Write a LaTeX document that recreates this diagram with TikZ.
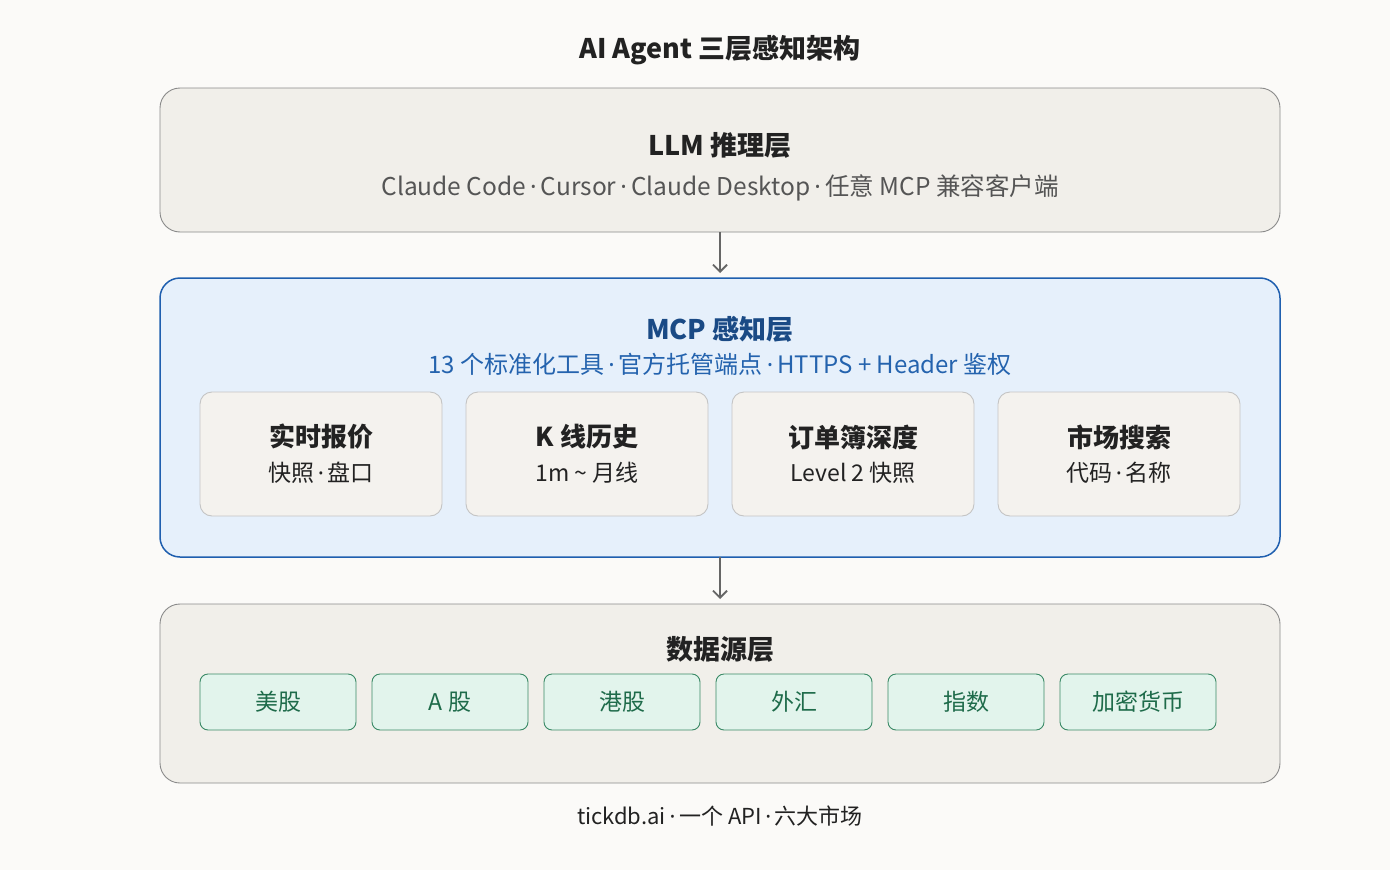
\documentclass[tikz,border=0pt]{standalone}
\usepackage{fontspec}
\setmainfont{Noto Sans CJK SC}
\newfontfamily\lat{Noto Sans}
\newcommand{\dt}{{\lat\,·\,}}
\usetikzlibrary{arrows.meta}
\definecolor{bg}{HTML}{FBFAF8}
\definecolor{layer}{HTML}{F1EFEA}
\definecolor{layerb}{HTML}{8A8A8A}
\definecolor{mcpf}{HTML}{E6F0FB}
\definecolor{mcpb}{HTML}{1F5FAF}
\definecolor{mcpt}{HTML}{1A4A85}
\definecolor{mcps}{HTML}{2463AE}
\definecolor{card}{HTML}{F4F2EE}
\definecolor{cardb}{HTML}{C4C4C4}
\definecolor{grf}{HTML}{E2F4EC}
\definecolor{grb}{HTML}{3A8A66}
\definecolor{grt}{HTML}{1E6B4A}
\definecolor{txt}{HTML}{222222}
\definecolor{sub}{HTML}{555555}
\begin{document}
\begin{tikzpicture}[x=1pt,y=-1pt,
  layerbox/.style={draw=layerb,fill=layer,rounded corners=20pt,line width=0.9pt},
  card/.style={draw=cardb,fill=card,rounded corners=12pt,line width=0.9pt},
  chip/.style={draw=grb,fill=grf,rounded corners=8pt,line width=0.9pt,text=grt,font=\fontsize{23}{26}\selectfont},
  hd/.style={font=\bfseries\fontsize{27}{30}\selectfont,text=txt},
  ct/.style={font=\bfseries\fontsize{26}{30}\selectfont,text=txt},
  cs/.style={font=\fontsize{23}{26}\selectfont,text=txt},
  st/.style={font=\fontsize{24.5}{28}\selectfont,text=sub},
  arr/.style={-{Straight Barb[length=7pt,width=14pt]},draw=sub!90,line width=1.8pt}]
\fill[bg] (0,0) rectangle (1390,870);
\useasboundingbox (0,0) rectangle (1390,870);
\node[hd] (title) at (720,50) {AI Agent 三层感知架构};
% LLM
\draw[layerbox] (160,88) rectangle (1280,232);
\coordinate (llmb) at (720,232);
\node[hd] (llm) at (720,145) {LLM 推理层};
\node[st] (llms) at (720,188) {Claude Code\dt Cursor\dt Claude Desktop\dt 任意 MCP 兼容客户端};
% MCP
\draw[draw=mcpb,fill=mcpf,rounded corners=20pt,line width=1.5pt] (160,278) rectangle (1280,557);
\coordinate (mcpt0) at (720,273);
\coordinate (mcpb0) at (720,557);
\node[font=\bfseries\fontsize{27}{30}\selectfont,text=mcpt] (mcp) at (720,329) {MCP 感知层};
\node[font=\fontsize{24}{28}\selectfont,text=mcps] (mcps) at (720,364) {13 个标准化工具\dt 官方托管端点\dt HTTPS + Header 鉴权};
\foreach \x/\a/\b [count=\i] in {200/实时报价/快照\dt 盘口,466/K 线历史/1m \textasciitilde{} 月线,732/订单簿深度/Level 2 快照,998/市场搜索/代码\dt 名称}{
  \draw[card] (\x,392) rectangle ++(242,124);
  \node[ct] (c\i) at (\x+121,437) {\a};
  \node[cs] (cs\i) at (\x+121,473) {\b};
}
% Data
\draw[layerbox] (160,604) rectangle (1280,783);
\coordinate (datat) at (720,599);
\node[hd] (data) at (720,649) {数据源层};
\foreach \x/\a [count=\i] in {200/美股,372/A 股,544/港股,716/外汇,888/指数,1060/加密货币}{
  \draw[chip] (\x,674) rectangle ++(156,56);
  \node[chip,draw=none,fill=none] (m\i) at (\x+78,702) {\a};
}
\draw[arr] (llmb) -- (mcpt0);
\draw[arr] (mcpb0) -- (datat);
\node[font=\fontsize{22}{26}\selectfont,text=txt] (foot) at (720,816) {tickdb.ai\dt 一个 API\dt 六大市场};
\end{tikzpicture}
\end{document}
